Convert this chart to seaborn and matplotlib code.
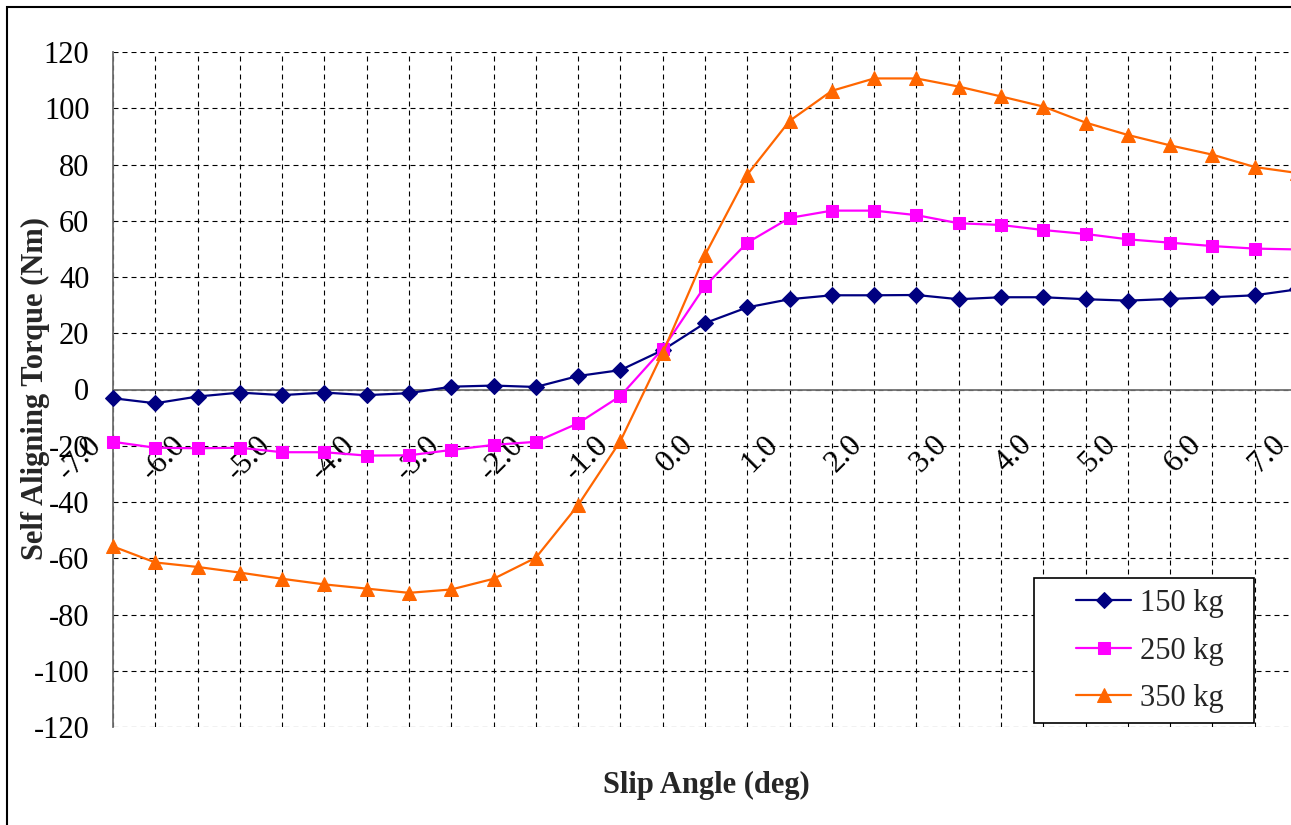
import matplotlib
matplotlib.use("Agg")
import matplotlib.pyplot as plt
import matplotlib.transforms as mtransforms
from matplotlib.patches import Rectangle
import seaborn as sns

# ---------------- data ----------------
slip_angle = [-7.0, -6.5, -6.0, -5.5, -5.0, -4.5, -4.0, -3.5, -3.0, -2.5,
              -2.0, -1.5, -1.0, -0.5, 0.0, 0.5, 1.0, 1.5, 2.0, 2.5,
              3.0, 3.5, 4.0, 4.5, 5.0, 5.5, 6.0, 6.5, 7.0]
torque_150 = [-3.1, -4.9, -2.5, -1.1, -2.0, -1.1, -2.0, -1.3, 1.0, 1.4,
              0.9, 4.8, 6.9, 14.0, 23.6, 29.2, 32.1, 33.5, 33.5, 33.6,
              32.1, 32.8, 32.8, 32.1, 31.6, 32.2, 32.8, 33.5, 35.6]
torque_250 = [-18.6, -20.7, -20.9, -20.7, -22.3, -22.3, -23.5, -23.4, -21.5, -19.7,
              -18.6, -12.0, -2.3, 14.4, 36.8, 52.2, 61.0, 63.6, 63.6, 62.0,
              59.1, 58.5, 56.7, 55.3, 53.4, 52.2, 51.0, 50.1, 49.8]
torque_350 = [-55.8, -61.5, -63.1, -65.1, -67.3, -69.3, -70.8, -72.3, -71.1, -67.3,
              -59.8, -41.1, -18.3, 13.0, 47.8, 76.4, 95.5, 106.2, 110.6, 110.6,
              107.7, 104.2, 100.6, 94.9, 90.5, 86.8, 83.5, 79.1, 77.0]
series_labels = ["150 kg", "250 kg", "350 kg"]
y_ticks = [-120, -100, -80, -60, -40, -20, 0, 20, 40, 60, 80, 100, 120]
x_tick_labels = ["-7.0", "", "-6.0", "", "-5.0", "", "-4.0", "", "-3.0", "",
                 "-2.0", "", "-1.0", "", "0.0", "", "1.0", "", "2.0", "",
                 "3.0", "", "4.0", "", "5.0", "", "6.0", "", "7.0"]
x_label = "Slip Angle (deg)"
y_label = "Self Aligning Torque (Nm)"

# ---------------- style ----------------
sns.set_style("white")
plt.rcParams['font.family'] = ['Liberation Serif', 'DejaVu Serif']
plt.rcParams['axes.unicode_minus'] = False

W, H = 1291, 825
fig = plt.figure(figsize=(W / 100, H / 100), dpi=100)
ax = fig.add_axes([113 / W, (H - 727) / H, (1297 - 113) / W, 675 / H])

styles = [("#000080", "D", 8.5), ("#FF00FF", "s", 8.0), ("#FF6600", "^", 9.5)]
for vals, lab, (c, m, ms) in zip([torque_150, torque_250, torque_350], series_labels, styles):
    sns.lineplot(x=slip_angle, y=vals, ax=ax, color=c, marker=m, markersize=ms,
                 markeredgecolor=c, markerfacecolor=c, linewidth=1.6, label=lab,
                 clip_on=False, zorder=3)

if ax.get_legend() is not None:
    ax.get_legend().remove()

ax.set_xlim(-7, 7)
ax.set_ylim(-120, 120)
ax.set_xticks(slip_angle)
ax.set_xticklabels(x_tick_labels)
ax.set_yticks(y_ticks)
ax.set_yticklabels([str(v) for v in y_ticks])
ax.set_xlabel("")
ax.set_ylabel("")

ax.grid(True, which='major', color='black', linestyle=(0, (4.5, 3.6)), linewidth=0.8)
ax.set_axisbelow(True)

for s in ['top', 'right']:
    ax.spines[s].set_visible(False)
ax.spines['left'].set_color('#707070')
ax.spines['left'].set_linewidth(1.3)
ax.spines['bottom'].set_position(('data', 0))
ax.spines['bottom'].set_color('#707070')
ax.spines['bottom'].set_linewidth(1.3)
ax.spines['bottom'].set_zorder(2.6)

ax.tick_params(axis='y', direction='out', length=7, width=1.2, color='#707070',
               labelsize=22, pad=10, labelcolor='black')
ax.tick_params(axis='x', length=0, pad=0, labelsize=22.5, labelcolor='black')

offset = mtransforms.ScaledTranslation(-16 / 100, -51 / 100, fig.dpi_scale_trans)
for lbl in ax.get_xticklabels():
    lbl.set_rotation(45)
    lbl.set_ha('right')
    lbl.set_va('center')
    lbl.set_rotation_mode('anchor')
    lbl.set_transform(lbl.get_transform() + offset)

# axis titles
fig.text(35 / W, 1 - 389 / H, y_label, rotation=90, ha='center', va='center',
         fontsize=22, fontweight='bold')
fig.text(706 / W, 1 - 785 / H, x_label, ha='center', va='center',
         fontsize=22, fontweight='bold')

# legend with white box
ax.add_patch(Rectangle((1034 / W, 1 - 723 / H), (1254 - 1034) / W, (723 - 578) / H,
                       transform=fig.transFigure, facecolor='white', edgecolor='black',
                       linewidth=1.2, zorder=4, clip_on=False))
handles, labels = ax.get_legend_handles_labels()
leg = ax.legend(handles, labels, loc='center', bbox_to_anchor=(1150 / W, 1 - 651 / H),
                bbox_transform=fig.transFigure, frameon=False, fontsize=22,
                handlelength=1.8, handletextpad=0.3, labelspacing=0.6, borderpad=0)
leg.set_zorder(5)

# outer chart border (cropped at right and bottom)
fig.add_artist(Rectangle((7 / W, -0.1), 1.2, 1.1 - 7 / H, transform=fig.transFigure,
                         fill=False, edgecolor='black', linewidth=1.5))

fig.savefig("out.png", dpi=100)
